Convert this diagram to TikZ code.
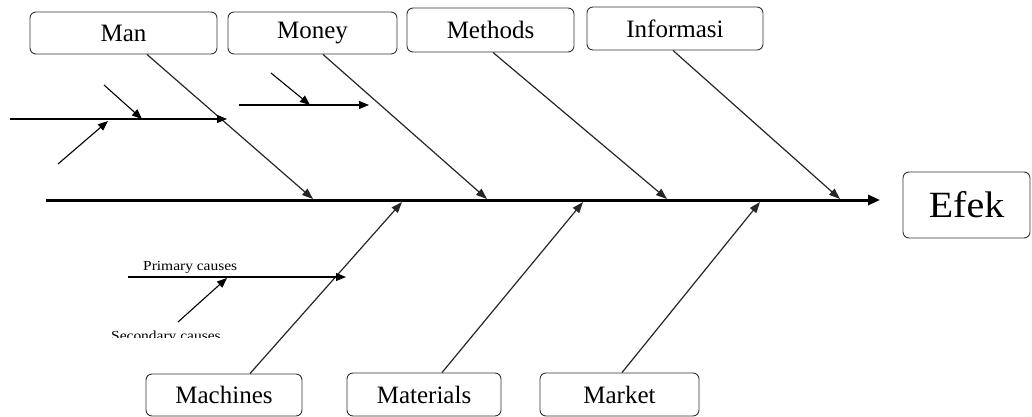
\documentclass[tikz,border=0pt]{standalone}
\usepackage{fontspec}
\usepackage{graphicx}
\setmainfont{Liberation Serif}
\usetikzlibrary{arrows.meta}

\tikzset{
  catbox/.style={draw=black!80, line width=0.9pt, rounded corners=6pt, inner sep=0pt,
    minimum height=42pt, font=\fontsize{25}{30}\selectfont},
  effbox/.style={catbox, minimum width=127pt, minimum height=66pt, font=\fontsize{37}{44}\selectfont},
  bone/.style={draw=black!85, line width=1.2pt, -{Triangle[length=11pt,width=8pt]}},
  spine/.style={draw=black, line width=3pt, -{Triangle[length=12pt,width=10pt]}},
  subbone/.style={draw=black, line width=1.1pt, -{Triangle[length=10pt,width=8pt]}},
  smalltext/.style={inner sep=0pt, font=\fontsize{13.8}{16}\selectfont}
}

\begin{document}
\begin{tikzpicture}[x=1pt, y=-1pt]
  \useasboundingbox (0,0) rectangle (1032,417);

  % category boxes along the top
  \node[catbox, minimum width=187pt] (man)   at (123.5,33) {Man};
  \node[catbox, minimum width=169pt] (money) at (312.5,33) {Money};
  \node[catbox, minimum width=167pt, minimum height=44pt] (methods) at (490.5,30) {Methods};
  \node[catbox, minimum width=176pt, minimum height=43pt] (info)    at (675,28.5) {Informasi};

  % category boxes along the bottom
  \node[catbox, minimum width=156pt] (machines)  at (224,395) {Machines};
  \node[catbox, minimum width=154pt, minimum height=43pt] (materials) at (424,394.5) {Materials};
  \node[catbox, minimum width=159pt, minimum height=43pt] (market)    at (619.5,394.5) {Market};

  % effect
  \node[effbox] (efek) at (966.5,205) {\scalebox{1.08}[1]{Efek}};

  % spine
  \coordinate (tail) at (46,200);
  \coordinate (head) at (880,200);
  \draw[spine] (tail) -- (head);

  % points where the bones meet the spine
  \coordinate (jMan)  at (313,199);
  \coordinate (jMon)  at (487,199);
  \coordinate (jMet)  at (667,199);
  \coordinate (jInf)  at (840,199);
  \coordinate (jMac)  at (402,202);
  \coordinate (jMat)  at (583,202);
  \coordinate (jMkt)  at (760,202);

  % main bones
  \draw[bone] ([xshift=23.5pt]man.south)      -- (jMan);
  \draw[bone] ([xshift=10.5pt]money.south)    -- (jMon);
  \draw[bone] ([xshift=2.5pt]methods.south)   -- (jMet);
  \draw[bone] ([xshift=-2pt]info.south)       -- (jInf);
  \draw[bone] ([xshift=26pt]machines.north)   -- (jMac);
  \draw[bone] ([xshift=18pt]materials.north)  -- (jMat);
  \draw[bone] ([xshift=2.5pt]market.north)    -- (jMkt);

  % sub-causes on the Man bone
  \coordinate (m0) at (10,119);
  \coordinate (m1) at (227,119);
  \coordinate (m2) at (104,85);
  \coordinate (m3) at (142,119);
  \coordinate (m4) at (58,164);
  \coordinate (m5) at (108,121);
  \draw[subbone] (m0) -- (m1);
  \draw[subbone] (m2) -- (m3);
  \draw[subbone] (m4) -- (m5);

  % sub-causes on the Money bone
  \coordinate (n0) at (239,105);
  \coordinate (n1) at (369,105);
  \coordinate (n2) at (271,73);
  \coordinate (n3) at (310,105);
  \draw[subbone] (n0) -- (n1);
  \draw[subbone] (n2) -- (n3);

  % legend on the Machines bone
  \coordinate (k0) at (128,277);
  \coordinate (k1) at (346,277);
  \coordinate (k2) at (178,322);
  \coordinate (k3) at (227,278);
  \draw[subbone] (k0) -- (k1);
  \draw[subbone] (k2) -- (k3);
  \node[smalltext, anchor=base west] (primary) at (143,270.5) {\scalebox{1.12}[1]{Primary causes}};
  \begin{scope}
    \clip (100,322) rectangle (240,337);
    \node[smalltext, anchor=base west] (secondary) at (111,340) {\scalebox{1.12}[1]{Secondary causes}};
  \end{scope}
\end{tikzpicture}
\end{document}
